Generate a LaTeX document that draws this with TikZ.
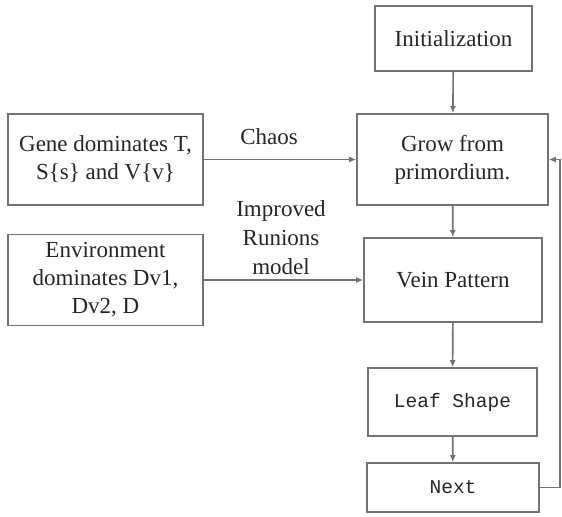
\documentclass[tikz,border=0pt]{standalone}
\usepackage{fontspec}
\setmainfont{Liberation Serif}
\newfontfamily\leafmono{Liberation Mono}
\usetikzlibrary{arrows.meta}

\begin{document}
\begin{tikzpicture}[x=0.5pt,y=-0.5pt,
        box/.style={draw=black!55,line width=0.8pt,inner sep=0pt,align=center,text=black!85,font=\fontsize{11.5}{14}\selectfont},
        monobox/.style={box,font=\leafmono\fontsize{9.75}{12}\selectfont},
        flow/.style={draw=black!55,line width=0.8pt,-{Latex[length=3.5pt,width=3pt]}},
        lbl/.style={align=center,text=black!85,font=\fontsize{11.5}{14.5}\selectfont}]
        \useasboundingbox (0,0) rectangle (562,516);

        \node[box,minimum width=78.5pt,minimum height=32.5pt] (init) at (453.5,38.5) {Initialization};
        \node[box,minimum width=95.5pt,minimum height=45.5pt] (grow) at (452.5,159.5) {Grow from\\primordium.};
        \node[box,minimum width=97.5pt,minimum height=45.5pt] (gene) at (105.5,159.5) {Gene dominates T,\\S\{s\} and V\{v\}};
        \node[box,minimum width=97.5pt,minimum height=45.5pt] (env) at (105.5,280) {Environment\\dominates Dv1,\\Dv2, D};
        \node[box,minimum width=89pt,minimum height=42pt] (vein) at (453,280) {Vein Pattern};
        \node[monobox,minimum width=84.5pt,minimum height=34pt] (leaf) at (452.5,402) {Leaf Shape};
        \node[monobox,minimum width=86pt,minimum height=24.5pt] (next) at (453,487.5) {Next};

        \draw[flow] (init) -- (grow);
        \draw[flow] (grow) -- (vein);
        \draw[flow] (vein) -- (leaf);
        \draw[flow] (leaf) -- (next);
        \draw[flow] (gene) -- (grow);
        \draw[flow] (env) -- (vein);
        \draw[flow] (next.east) -- ++(20,0) |- (grow.east);

        \node[lbl] (chaos) at (269,137) {Chaos};
        \node[lbl] (model) at (281,238) {Improved\\Runions\\model};

    \end{tikzpicture}
\end{document}
